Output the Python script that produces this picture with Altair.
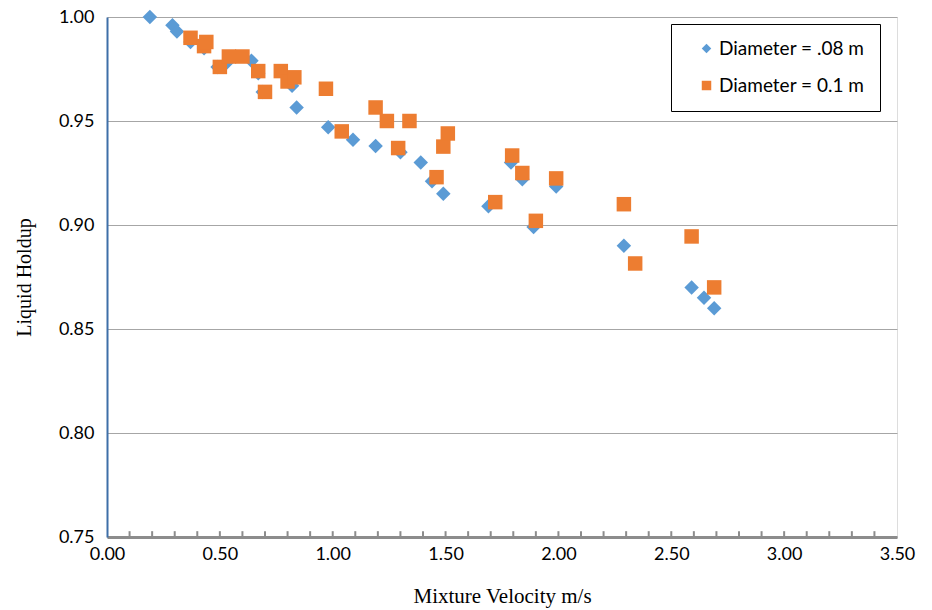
import altair as alt
import pandas as pd

# Diameter = .08 m
vel_08 = [0.19, 0.29, 0.31, 0.37, 0.43, 0.49, 0.53, 0.64, 0.67, 0.69, 0.82, 0.84,
          0.98, 1.09, 1.19, 1.30, 1.39, 1.44, 1.49, 1.69, 1.79, 1.84, 1.89, 1.99,
          2.29, 2.59, 2.645, 2.69]
hold_08 = [1.000, 0.996, 0.993, 0.988, 0.985, 0.976, 0.978, 0.979, 0.973, 0.964, 0.967, 0.9565,
           0.947, 0.941, 0.938, 0.935, 0.930, 0.921, 0.915, 0.909, 0.930, 0.922, 0.899, 0.9185,
           0.890, 0.870, 0.865, 0.860]

# Diameter = 0.1 m
vel_01 = [0.37, 0.43, 0.44, 0.50, 0.54, 0.60, 0.67, 0.70, 0.77, 0.80, 0.83, 0.97,
          1.04, 1.19, 1.24, 1.29, 1.34, 1.46, 1.49, 1.51, 1.72, 1.795, 1.84, 1.90,
          1.99, 2.29, 2.34, 2.59, 2.69]
hold_01 = [0.990, 0.986, 0.988, 0.976, 0.981, 0.981, 0.974, 0.964, 0.974, 0.969, 0.971, 0.9655,
           0.945, 0.9565, 0.950, 0.937, 0.950, 0.923, 0.9377, 0.944, 0.911, 0.9334, 0.925, 0.902,
           0.9224, 0.910, 0.8815, 0.8945, 0.870]

series_names = ["Diameter = .08 m", "Diameter = 0.1 m"]
series_colors = ["#5B9BD5", "#ED7D31"]
series_shapes = ["diamond", "square"]

x_ticks = [0.0, 0.5, 1.0, 1.5, 2.0, 2.5, 3.0, 3.5]
y_ticks = [0.75, 0.80, 0.85, 0.90, 0.95, 1.00]
minor_x = [round(i * 0.1, 1) for i in range(1, 35)]

df = pd.DataFrame(
    {"v": vel_08 + vel_01,
     "h": hold_08 + hold_01,
     "s": [series_names[0]] * len(vel_08) + [series_names[1]] * len(vel_01),
     "o": [0] * len(vel_08) + [1] * len(vel_01)}
)
minor_df = pd.DataFrame({"t": minor_x})

W, H = 790, 520

xscale = alt.Scale(domain=[0, 3.5], nice=False, zero=False)
yscale = alt.Scale(domain=[0.75, 1.0], nice=False, zero=False)

points = alt.Chart(df).mark_point(filled=True, opacity=1, strokeWidth=0).encode(
    x=alt.X("v:Q", scale=xscale,
            axis=alt.Axis(values=x_ticks, format=".2f", title="Mixture Velocity m/s",
                          grid=False, ticks=False, domainColor="#8C8C8C", domainWidth=3,
                          labelFont="Lato", labelFontSize=18, labelColor="#000000",
                          labelPadding=8, titleFont="Liberation Serif", titleFontSize=21,
                          titleFontWeight="normal", titleColor="#000000", titlePadding=22,
                          labelFlush=False)),
    y=alt.Y("h:Q", scale=yscale,
            axis=alt.Axis(values=y_ticks, format=".2f", title="Liquid Holdup",
                          grid=True, gridColor="#A6A6A6", gridWidth=1, ticks=False,
                          domainColor="#3E6FA8", domainWidth=2,
                          labelFont="Lato", labelFontSize=18, labelColor="#000000",
                          labelPadding=13, titleFont="Liberation Serif", titleFontSize=20,
                          titleFontWeight="normal", titleColor="#000000", titlePadding=24,
                          labelFlush=False)),
    color=alt.Color("s:N", scale=alt.Scale(domain=series_names, range=series_colors),
                    legend=alt.Legend(title=None, orient="none", legendX=564, legendY=7,
                                      strokeColor="#000000", fillColor="#FFFFFF", padding=15,
                                      symbolOffset=11, labelFont="Lato", labelFontSize=19,
                                      labelColor="#000000", rowPadding=17, symbolSize=90,
                                      symbolStrokeWidth=0, labelOffset=3, labelLimit=400)),
    shape=alt.Shape("s:N", scale=alt.Scale(domain=series_names, range=series_shapes)),
    size=alt.value(210),
    order=alt.Order("o:Q"),
)

minor = alt.Chart(minor_df).mark_rule(color="#8C8C8C", strokeWidth=2).encode(
    x=alt.X("t:Q", scale=xscale),
    y=alt.datum(0.75),
    y2=alt.datum(0.7528),
)

chart = alt.layer(minor, points).properties(
    width=W, height=H,
    autosize=alt.AutoSizeParams(type="none"),
    padding={"left": 107, "top": 17, "right": 35, "bottom": 73},
).configure_view(stroke="#000000", strokeWidth=2).configure(background="#FFFFFF")

chart.save("out.html", embed_options={"renderer": "svg", "actions": False})
